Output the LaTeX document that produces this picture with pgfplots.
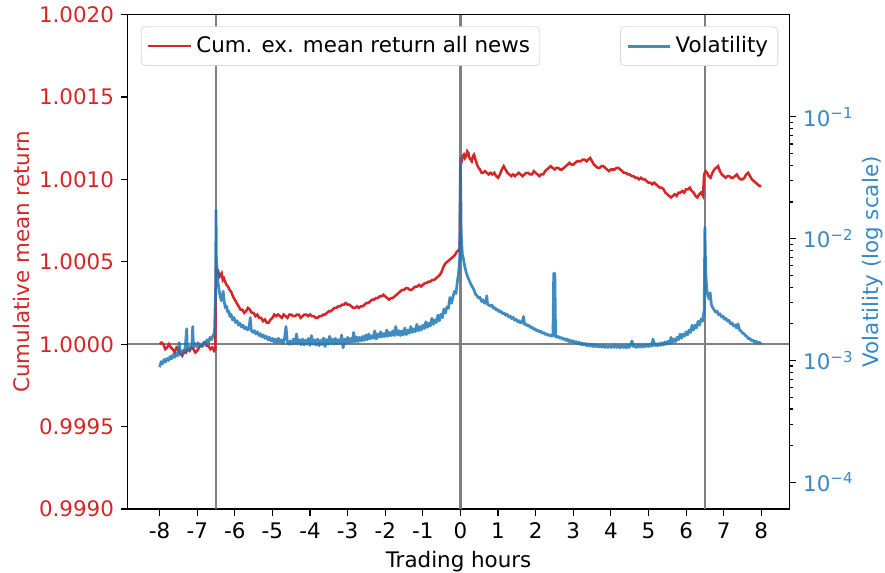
\documentclass[border={6pt 0pt 0pt 0pt}]{standalone}
\usepackage{fontspec}
\setmainfont{DejaVu Sans}
\usepackage{pgfplots}
\pgfplotsset{compat=1.18}
\definecolor{tred}{HTML}{D62728}
\definecolor{tblue}{HTML}{1F77B4}
\definecolor{lblue}{HTML}{3A88C2}

\pgfplotsset{
  common/.style={
    scale only axis, width=340pt, height=254pt,
    xmin=-8.85, xmax=8.75,
    tick align=outside, major tick length=3.5pt, minor tick length=2pt,
    tick style={black, line width=0.6pt},
    axis line style={line width=0.6pt},
    font=\fontsize{11}{13}\selectfont,
    legend cell align=left,
    legend image code/.code={\draw[#1] (0pt,0pt) -- (22pt,0pt);},
    legend style={rounded corners=2pt, draw=black!15, font=\fontsize{11}{13}\selectfont,
      inner xsep=3pt, inner ysep=3pt},
  }
}

\begin{document}
\begin{tikzpicture}
\begin{axis}[common,
    ymin=0.999, ymax=1.002,
    xtick pos=bottom, ytick pos=left,
    xtick={-8,-7,-6,-5,-4,-3,-2,-1,0,1,2,3,4,5,6,7,8},
    xticklabels={-8,-7,-6,-5,-4,-3,-2,-1,0,1,2,3,4,5,6,7,8},
    ytick={0.999,0.9995,1,1.0005,1.001,1.0015,1.002},
    yticklabels={0.9990,0.9995,1.0000,1.0005,1.0010,1.0015,1.0020},
    yticklabel style={text=tred},
    ylabel={Cumulative mean return}, ylabel style={text=tred, inner sep=1pt},
    xlabel={Trading hours}, xlabel style={inner sep=0pt, yshift=-3pt},
    legend style={at={(0.02,0.976)}, anchor=north west},
]
% reference lines
\addplot[forget plot, black!50, line width=1.1pt] coordinates {(-6.5,0.999) (-6.5,1.002)};
\addplot[forget plot, black!50, line width=1.1pt] coordinates {(0,0.999) (0,1.002)};
\addplot[forget plot, black!50, line width=1.1pt] coordinates {(6.5,0.999) (6.5,1.002)};
\addplot[forget plot, black!50, line width=1.1pt] coordinates {(-8.85,1) (8.75,1)};

\addplot[tred, line width=1.3pt] coordinates {
(-8.00,1.00000) (-7.95,1.00001) (-7.90,1.00000) (-7.85,0.99997) (-7.80,0.99998)
(-7.75,1.00000) (-7.70,0.99998) (-7.65,0.99997) (-7.60,0.99995) (-7.55,0.99998)
(-7.50,0.99997) (-7.45,0.99994) (-7.40,0.99993) (-7.35,0.99996) (-7.30,0.99995)
(-7.25,0.99997) (-7.20,0.99996) (-7.15,0.99998) (-7.10,0.99997) (-7.05,0.99995)
(-7.00,0.99996) (-6.95,0.99998) (-6.90,0.99999) (-6.85,1.00000) (-6.80,1.00001)
(-6.75,0.99999) (-6.70,0.99999) (-6.65,0.99997) (-6.60,0.99998) (-6.55,0.99996)
(-6.52,0.99997) (-6.50,1.00046) (-6.47,1.00043) (-6.44,1.00044) (-6.41,1.00041)
(-6.38,1.00042) (-6.35,1.00043) (-6.32,1.00039) (-6.29,1.00040) (-6.26,1.00038)
(-6.22,1.00036) (-6.18,1.00035) (-6.14,1.00033) (-6.10,1.00032) (-6.05,1.00029)
(-6.00,1.00027) (-5.95,1.00025) (-5.90,1.00023) (-5.85,1.00021) (-5.80,1.00021)
(-5.75,1.00019) (-5.70,1.00020) (-5.65,1.00022) (-5.60,1.00021) (-5.55,1.00019)
(-5.50,1.00019) (-5.45,1.00017) (-5.40,1.00018) (-5.35,1.00016) (-5.30,1.00016)
(-5.25,1.00014) (-5.20,1.00015) (-5.15,1.00013) (-5.10,1.00013) (-5.05,1.00015)
(-5.00,1.00016) (-4.95,1.00018) (-4.90,1.00017) (-4.85,1.00018) (-4.80,1.00017)
(-4.75,1.00016) (-4.70,1.00018) (-4.65,1.00017) (-4.60,1.00016) (-4.55,1.00018)
(-4.50,1.00018) (-4.45,1.00017) (-4.40,1.00017) (-4.35,1.00018) (-4.30,1.00018)
(-4.25,1.00016) (-4.20,1.00017) (-4.15,1.00018) (-4.10,1.00018) (-4.05,1.00017)
(-4.00,1.00018) (-3.95,1.00017) (-3.90,1.00017) (-3.85,1.00016) (-3.80,1.00016)
(-3.75,1.00017) (-3.70,1.00017) (-3.65,1.00018) (-3.60,1.00018) (-3.55,1.00019)
(-3.50,1.00020) (-3.45,1.00020) (-3.40,1.00021) (-3.35,1.00022) (-3.30,1.00022)
(-3.25,1.00023) (-3.20,1.00023) (-3.15,1.00024) (-3.10,1.00024) (-3.05,1.00025)
(-3.00,1.00024) (-2.95,1.00024) (-2.90,1.00023) (-2.85,1.00022) (-2.80,1.00022)
(-2.75,1.00023) (-2.70,1.00022) (-2.65,1.00023) (-2.60,1.00023) (-2.55,1.00024)
(-2.50,1.00025) (-2.45,1.00025) (-2.40,1.00026) (-2.35,1.00027) (-2.30,1.00027)
(-2.25,1.00028) (-2.20,1.00028) (-2.15,1.00029) (-2.10,1.00029) (-2.05,1.00030)
(-2.00,1.00029) (-1.95,1.00028) (-1.90,1.00027) (-1.85,1.00028) (-1.80,1.00028)
(-1.75,1.00029) (-1.70,1.00030) (-1.65,1.00031) (-1.60,1.00032) (-1.55,1.00033)
(-1.50,1.00033) (-1.45,1.00034) (-1.40,1.00034) (-1.35,1.00033) (-1.30,1.00033)
(-1.25,1.00034) (-1.20,1.00035) (-1.15,1.00035) (-1.10,1.00036) (-1.05,1.00035)
(-1.00,1.00036) (-0.95,1.00037) (-0.90,1.00037) (-0.85,1.00038) (-0.80,1.00038)
(-0.75,1.00039) (-0.70,1.00039) (-0.65,1.00040) (-0.60,1.00041) (-0.55,1.00042)
(-0.50,1.00044) (-0.45,1.00047) (-0.40,1.00049) (-0.35,1.00050) (-0.30,1.00051)
(-0.25,1.00052) (-0.20,1.00053) (-0.15,1.00054) (-0.10,1.00056) (-0.05,1.00057)
(-0.02,1.00058) (0.00,1.00108) (0.03,1.00111) (0.06,1.00114) (0.09,1.00115)
(0.12,1.00113) (0.15,1.00114) (0.18,1.00117) (0.21,1.00116) (0.24,1.00113)
(0.27,1.00112) (0.30,1.00111) (0.33,1.00114) (0.36,1.00115) (0.40,1.00112)
(0.44,1.00109) (0.48,1.00107) (0.52,1.00106) (0.56,1.00104) (0.60,1.00104)
(0.65,1.00105) (0.70,1.00104) (0.75,1.00103) (0.80,1.00104) (0.85,1.00103)
(0.90,1.00104) (0.95,1.00102) (1.00,1.00101) (1.05,1.00103) (1.10,1.00106)
(1.15,1.00108) (1.20,1.00106) (1.25,1.00104) (1.30,1.00103) (1.35,1.00102)
(1.40,1.00103) (1.45,1.00102) (1.50,1.00103) (1.55,1.00104) (1.60,1.00103)
(1.65,1.00102) (1.70,1.00103) (1.75,1.00104) (1.80,1.00104) (1.85,1.00103)
(1.90,1.00103) (1.95,1.00105) (2.00,1.00104) (2.05,1.00103) (2.10,1.00102)
(2.15,1.00103) (2.20,1.00103) (2.25,1.00105) (2.30,1.00106) (2.35,1.00107)
(2.40,1.00108) (2.45,1.00107) (2.50,1.00106) (2.55,1.00107) (2.60,1.00107)
(2.65,1.00106) (2.70,1.00106) (2.75,1.00107) (2.80,1.00108) (2.85,1.00109)
(2.90,1.00110) (2.95,1.00109) (3.00,1.00109) (3.05,1.00110) (3.10,1.00111)
(3.15,1.00111) (3.20,1.00111) (3.25,1.00112) (3.30,1.00112) (3.35,1.00111)
(3.40,1.00112) (3.45,1.00113) (3.50,1.00111) (3.55,1.00109) (3.60,1.00108)
(3.65,1.00107) (3.70,1.00107) (3.75,1.00108) (3.80,1.00108) (3.85,1.00107)
(3.90,1.00106) (3.95,1.00105) (4.00,1.00106) (4.05,1.00106) (4.10,1.00106)
(4.15,1.00107) (4.20,1.00107) (4.25,1.00106) (4.30,1.00105) (4.35,1.00104)
(4.40,1.00104) (4.45,1.00103) (4.50,1.00103) (4.55,1.00102) (4.60,1.00102)
(4.65,1.00101) (4.70,1.00101) (4.75,1.00100) (4.80,1.00101) (4.85,1.00100)
(4.90,1.00100) (4.95,1.00099) (5.00,1.00098) (5.05,1.00098) (5.10,1.00097)
(5.15,1.00098) (5.20,1.00097) (5.25,1.00096) (5.30,1.00095) (5.35,1.00095)
(5.40,1.00094) (5.45,1.00092) (5.50,1.00091) (5.55,1.00090) (5.60,1.00089)
(5.65,1.00090) (5.70,1.00091) (5.75,1.00090) (5.80,1.00092) (5.85,1.00092)
(5.90,1.00093) (5.95,1.00092) (6.00,1.00094) (6.05,1.00094) (6.10,1.00095)
(6.15,1.00093) (6.20,1.00092) (6.25,1.00090) (6.30,1.00089) (6.35,1.00091)
(6.40,1.00092) (6.45,1.00090) (6.48,1.00103) (6.52,1.00105) (6.56,1.00104)
(6.60,1.00102) (6.65,1.00101) (6.70,1.00104) (6.75,1.00106) (6.80,1.00107)
(6.85,1.00108) (6.90,1.00105) (6.95,1.00103) (7.00,1.00102) (7.05,1.00101)
(7.10,1.00102) (7.15,1.00102) (7.20,1.00101) (7.25,1.00101) (7.30,1.00102)
(7.35,1.00103) (7.40,1.00101) (7.45,1.00100) (7.50,1.00100) (7.55,1.00101)
(7.60,1.00103) (7.65,1.00104) (7.70,1.00102) (7.75,1.00100) (7.80,1.00099)
(7.85,1.00098) (7.90,1.00097) (7.95,1.00096) (8.00,1.00096)
};
\addlegendentry{Cum. ex. mean return all news}
\end{axis}

\begin{axis}[common,
    axis x line=none, axis y line*=right,
    ymode=log, ymin=6.03e-5, ymax=0.692,
    ytick={1e-4,1e-3,1e-2,1e-1},
    yticklabels={10\textsuperscript{−4},10\textsuperscript{−3},10\textsuperscript{−2},10\textsuperscript{−1}},
    yticklabel style={text=lblue},
    ylabel={Volatility (log scale)}, ylabel style={text=lblue, inner sep=1pt},
    legend style={at={(0.983,0.976)}, anchor=north east},
]
\addplot[tblue, opacity=0.85, line width=1.4pt, line join=round] coordinates {
(-8.00,0.00088) (-7.96,0.00098) (-7.92,0.00094) (-7.88,0.00102) (-7.84,0.00097)
(-7.80,0.00104) (-7.76,0.00100) (-7.72,0.00108) (-7.68,0.00103) (-7.64,0.00112)
(-7.60,0.00106) (-7.56,0.00114) (-7.52,0.00109) (-7.48,0.00140) (-7.44,0.00112)
(-7.40,0.00120) (-7.36,0.00114) (-7.32,0.00126) (-7.28,0.00182) (-7.26,0.00120)
(-7.22,0.00130) (-7.18,0.00124) (-7.14,0.00135) (-7.12,0.00190) (-7.10,0.00128)
(-7.06,0.00138) (-7.02,0.00130) (-6.98,0.00140) (-6.94,0.00132) (-6.90,0.00135)
(-6.86,0.00130) (-6.82,0.00142) (-6.78,0.00135) (-6.74,0.00148) (-6.70,0.00140)
(-6.66,0.00155) (-6.62,0.00148) (-6.58,0.00160) (-6.54,0.00170) (-6.51,0.00400)
(-6.50,0.01710) (-6.49,0.00700) (-6.47,0.00550) (-6.45,0.00450) (-6.42,0.00380)
(-6.39,0.00340) (-6.36,0.00310) (-6.33,0.00330) (-6.31,0.00370) (-6.28,0.00300)
(-6.25,0.00270) (-6.22,0.00280) (-6.19,0.00250) (-6.16,0.00255) (-6.13,0.00230)
(-6.10,0.00240) (-6.06,0.00215) (-6.02,0.00225) (-5.98,0.00205) (-5.94,0.00212)
(-5.90,0.00195) (-5.86,0.00202) (-5.82,0.00188) (-5.78,0.00195) (-5.74,0.00182)
(-5.70,0.00188) (-5.66,0.00178) (-5.62,0.00185) (-5.59,0.00225) (-5.56,0.00176)
(-5.52,0.00170) (-5.48,0.00176) (-5.44,0.00165) (-5.40,0.00172) (-5.36,0.00160)
(-5.32,0.00166) (-5.28,0.00156) (-5.24,0.00162) (-5.20,0.00152) (-5.16,0.00158)
(-5.12,0.00148) (-5.08,0.00155) (-5.04,0.00145) (-5.00,0.00152) (-4.96,0.00142)
(-4.92,0.00150) (-4.88,0.00140) (-4.84,0.00152) (-4.80,0.00141) (-4.76,0.00148)
(-4.72,0.00138) (-4.68,0.00150) (-4.64,0.00190) (-4.60,0.00140) (-4.56,0.00136)
(-4.52,0.00145) (-4.48,0.00136) (-4.44,0.00150) (-4.40,0.00138) (-4.36,0.00165)
(-4.32,0.00137) (-4.28,0.00148) (-4.24,0.00135) (-4.20,0.00150) (-4.16,0.00134)
(-4.12,0.00147) (-4.08,0.00136) (-4.04,0.00152) (-4.00,0.00133) (-3.96,0.00160)
(-3.92,0.00136) (-3.88,0.00148) (-3.84,0.00134) (-3.80,0.00150) (-3.76,0.00132)
(-3.72,0.00147) (-3.68,0.00135) (-3.64,0.00153) (-3.60,0.00130) (-3.56,0.00149)
(-3.52,0.00136) (-3.48,0.00158) (-3.44,0.00138) (-3.40,0.00150) (-3.36,0.00136)
(-3.32,0.00152) (-3.28,0.00137) (-3.24,0.00148) (-3.20,0.00139) (-3.16,0.00162)
(-3.12,0.00127) (-3.08,0.00150) (-3.04,0.00138) (-3.00,0.00155) (-2.96,0.00140)
(-2.92,0.00152) (-2.88,0.00141) (-2.84,0.00170) (-2.80,0.00142) (-2.76,0.00156)
(-2.72,0.00143) (-2.68,0.00155) (-2.64,0.00145) (-2.60,0.00158) (-2.56,0.00146)
(-2.52,0.00162) (-2.48,0.00148) (-2.44,0.00165) (-2.40,0.00150) (-2.36,0.00160)
(-2.32,0.00152) (-2.28,0.00175) (-2.24,0.00150) (-2.20,0.00165) (-2.16,0.00155)
(-2.12,0.00172) (-2.08,0.00156) (-2.04,0.00166) (-2.00,0.00157) (-1.96,0.00178)
(-1.92,0.00158) (-1.88,0.00170) (-1.84,0.00160) (-1.80,0.00175) (-1.76,0.00160)
(-1.72,0.00190) (-1.68,0.00162) (-1.64,0.00176) (-1.60,0.00160) (-1.56,0.00175)
(-1.52,0.00162) (-1.48,0.00185) (-1.44,0.00163) (-1.40,0.00178) (-1.36,0.00167)
(-1.32,0.00190) (-1.28,0.00170) (-1.24,0.00182) (-1.20,0.00172) (-1.16,0.00198)
(-1.12,0.00175) (-1.08,0.00190) (-1.04,0.00178) (-1.00,0.00195) (-0.96,0.00183)
(-0.92,0.00208) (-0.88,0.00187) (-0.84,0.00203) (-0.80,0.00192) (-0.76,0.00222)
(-0.72,0.00198) (-0.68,0.00216) (-0.64,0.00205) (-0.60,0.00236) (-0.56,0.00212)
(-0.52,0.00240) (-0.48,0.00225) (-0.44,0.00265) (-0.40,0.00245) (-0.36,0.00275)
(-0.32,0.00268) (-0.28,0.00330) (-0.24,0.00295) (-0.20,0.00330) (-0.16,0.00370)
(-0.12,0.00355) (-0.08,0.00450) (-0.05,0.00520) (-0.02,0.00700) (0.00,0.04600)
(0.02,0.01100) (0.05,0.00750) (0.08,0.00680) (0.12,0.00580) (0.16,0.00520)
(0.20,0.00480) (0.24,0.00450) (0.28,0.00420) (0.32,0.00400) (0.36,0.00380)
(0.40,0.00350) (0.44,0.00340) (0.48,0.00325) (0.52,0.00330) (0.56,0.00305)
(0.60,0.00315) (0.64,0.00295) (0.68,0.00300) (0.70,0.00340) (0.72,0.00290)
(0.76,0.00285) (0.80,0.00278) (0.84,0.00285) (0.88,0.00268) (0.92,0.00272)
(0.96,0.00258) (1.00,0.00262) (1.04,0.00250) (1.08,0.00254) (1.12,0.00242)
(1.16,0.00246) (1.20,0.00235) (1.24,0.00240) (1.28,0.00228) (1.32,0.00232)
(1.36,0.00221) (1.40,0.00226) (1.44,0.00214) (1.48,0.00218) (1.52,0.00208)
(1.56,0.00212) (1.60,0.00203) (1.64,0.00206) (1.68,0.00230) (1.70,0.00198)
(1.74,0.00200) (1.78,0.00192) (1.82,0.00195) (1.86,0.00186) (1.90,0.00189)
(1.94,0.00180) (1.98,0.00183) (2.02,0.00175) (2.06,0.00178) (2.10,0.00171)
(2.14,0.00174) (2.18,0.00167) (2.22,0.00170) (2.26,0.00163) (2.30,0.00166)
(2.34,0.00160) (2.38,0.00163) (2.42,0.00158) (2.46,0.00160) (2.48,0.00520)
(2.51,0.00520) (2.53,0.00157) (2.56,0.00155) (2.60,0.00158) (2.64,0.00152)
(2.68,0.00155) (2.72,0.00149) (2.76,0.00152) (2.80,0.00146) (2.84,0.00150)
(2.88,0.00143) (2.92,0.00147) (2.96,0.00141) (3.00,0.00145) (3.04,0.00139)
(3.08,0.00143) (3.12,0.00137) (3.16,0.00141) (3.20,0.00135) (3.24,0.00139)
(3.28,0.00134) (3.32,0.00138) (3.36,0.00132) (3.40,0.00137) (3.44,0.00131)
(3.48,0.00136) (3.52,0.00130) (3.56,0.00135) (3.60,0.00130) (3.64,0.00134)
(3.68,0.00129) (3.72,0.00133) (3.76,0.00129) (3.80,0.00133) (3.84,0.00128)
(3.88,0.00132) (3.92,0.00128) (3.96,0.00132) (4.00,0.00128) (4.04,0.00132)
(4.08,0.00128) (4.12,0.00135) (4.16,0.00128) (4.20,0.00132) (4.24,0.00127)
(4.28,0.00133) (4.32,0.00128) (4.36,0.00132) (4.40,0.00127) (4.44,0.00133)
(4.48,0.00128) (4.52,0.00132) (4.56,0.00145) (4.60,0.00130) (4.64,0.00133)
(4.68,0.00128) (4.72,0.00134) (4.76,0.00129) (4.80,0.00133) (4.84,0.00129)
(4.88,0.00134) (4.92,0.00130) (4.96,0.00135) (5.00,0.00130) (5.04,0.00136)
(5.08,0.00131) (5.12,0.00150) (5.16,0.00132) (5.20,0.00137) (5.24,0.00132)
(5.28,0.00138) (5.32,0.00133) (5.36,0.00140) (5.40,0.00134) (5.44,0.00142)
(5.48,0.00136) (5.52,0.00144) (5.56,0.00137) (5.60,0.00155) (5.64,0.00140)
(5.68,0.00150) (5.72,0.00143) (5.76,0.00155) (5.80,0.00148) (5.84,0.00165)
(5.88,0.00152) (5.92,0.00165) (5.96,0.00158) (6.00,0.00172) (6.04,0.00162)
(6.08,0.00178) (6.12,0.00170) (6.16,0.00195) (6.20,0.00178) (6.24,0.00195)
(6.28,0.00185) (6.32,0.00210) (6.36,0.00195) (6.40,0.00220) (6.44,0.00210)
(6.48,0.00260) (6.50,0.01240) (6.52,0.00550) (6.55,0.00380) (6.58,0.00340)
(6.61,0.00320) (6.64,0.00360) (6.67,0.00290) (6.70,0.00275) (6.74,0.00262)
(6.78,0.00250) (6.82,0.00255) (6.86,0.00238) (6.90,0.00242) (6.94,0.00228)
(6.98,0.00232) (7.02,0.00218) (7.06,0.00222) (7.10,0.00210) (7.14,0.00214)
(7.18,0.00200) (7.22,0.00204) (7.26,0.00192) (7.30,0.00196) (7.34,0.00185)
(7.38,0.00200) (7.42,0.00178) (7.46,0.00175) (7.50,0.00168) (7.54,0.00166)
(7.58,0.00160) (7.62,0.00157) (7.66,0.00150) (7.70,0.00152) (7.74,0.00145)
(7.78,0.00147) (7.82,0.00141) (7.86,0.00144) (7.90,0.00138) (7.94,0.00141)
(8.00,0.00137)
};
\addlegendentry{Volatility}
\end{axis}
\end{tikzpicture}
\end{document}
